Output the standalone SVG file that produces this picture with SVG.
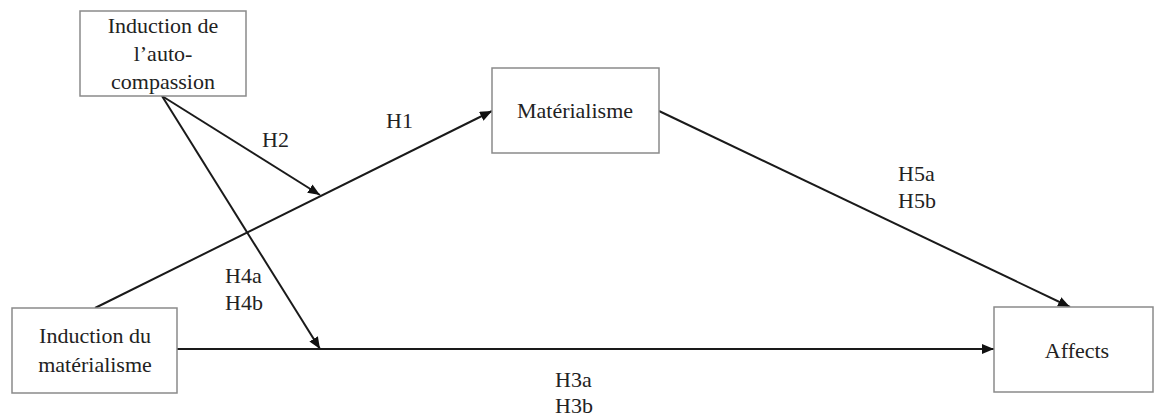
<svg xmlns="http://www.w3.org/2000/svg" width="1155" height="418" viewBox="0 0 1155 418">
<style>
.box{fill:#fff;stroke:#8a8a8a;stroke-width:1.5}
.t{font-family:'Liberation Serif',Tinos,'Times New Roman','DejaVu Serif',serif;font-size:22px;fill:#222;text-anchor:middle}
.lbl{font-family:'Liberation Serif',Tinos,'Times New Roman','DejaVu Serif',serif;font-size:22px;fill:#222}
.c{stroke:#1a1a1a;stroke-width:2;fill:none;marker-end:url(#ah)}
</style>
<defs>
<marker id="ah" viewBox="0 0 12 10" refX="12" refY="5" markerWidth="12" markerHeight="10" markerUnits="userSpaceOnUse" orient="auto">
<path d="M0,0 L12,5 L0,10 Z" fill="#111"/>
</marker>
</defs>
<rect width="1155" height="418" fill="#fff"/>
<g id="connectors">
<line class="c" x1="162" y1="96" x2="320" y2="195"/>
<line class="c" x1="162" y1="96" x2="320" y2="349"/>
<line class="c" x1="95" y1="308" x2="492" y2="111"/>
<line class="c" x1="177" y1="349" x2="994" y2="349"/>
<line class="c" x1="659" y1="111" x2="1070" y2="307"/>
</g>
<g id="labels">
<text class="lbl" x="386" y="128">H1</text>
<text class="lbl" x="262" y="147">H2</text>
<text class="lbl" x="225" y="283">H4a</text>
<text class="lbl" x="225" y="310">H4b</text>
<text class="lbl" x="898" y="181">H5a</text>
<text class="lbl" x="898" y="208">H5b</text>
<text class="lbl" x="555" y="387">H3a</text>
<text class="lbl" x="555" y="413">H3b</text>
</g>
<g id="node-autocompassion">
<rect class="box" x="80" y="11" width="166" height="85"/>
<text class="t" x="163" y="33">Induction de</text>
<text class="t" x="163" y="61">l’auto-</text>
<text class="t" x="163" y="89">compassion</text>
</g>
<g id="node-induction-materialisme">
<rect class="box" x="12" y="308" width="165" height="85"/>
<text class="t" x="95" y="343">Induction du</text>
<text class="t" x="95" y="372">matérialisme</text>
</g>
<g id="node-materialisme">
<rect class="box" x="492" y="68" width="167" height="85"/>
<text class="t" x="575" y="118">Matérialisme</text>
</g>
<g id="node-affects">
<rect class="box" x="994" y="307" width="159" height="85"/>
<text class="t" x="1077" y="358">Affects</text>
</g>
</svg>
